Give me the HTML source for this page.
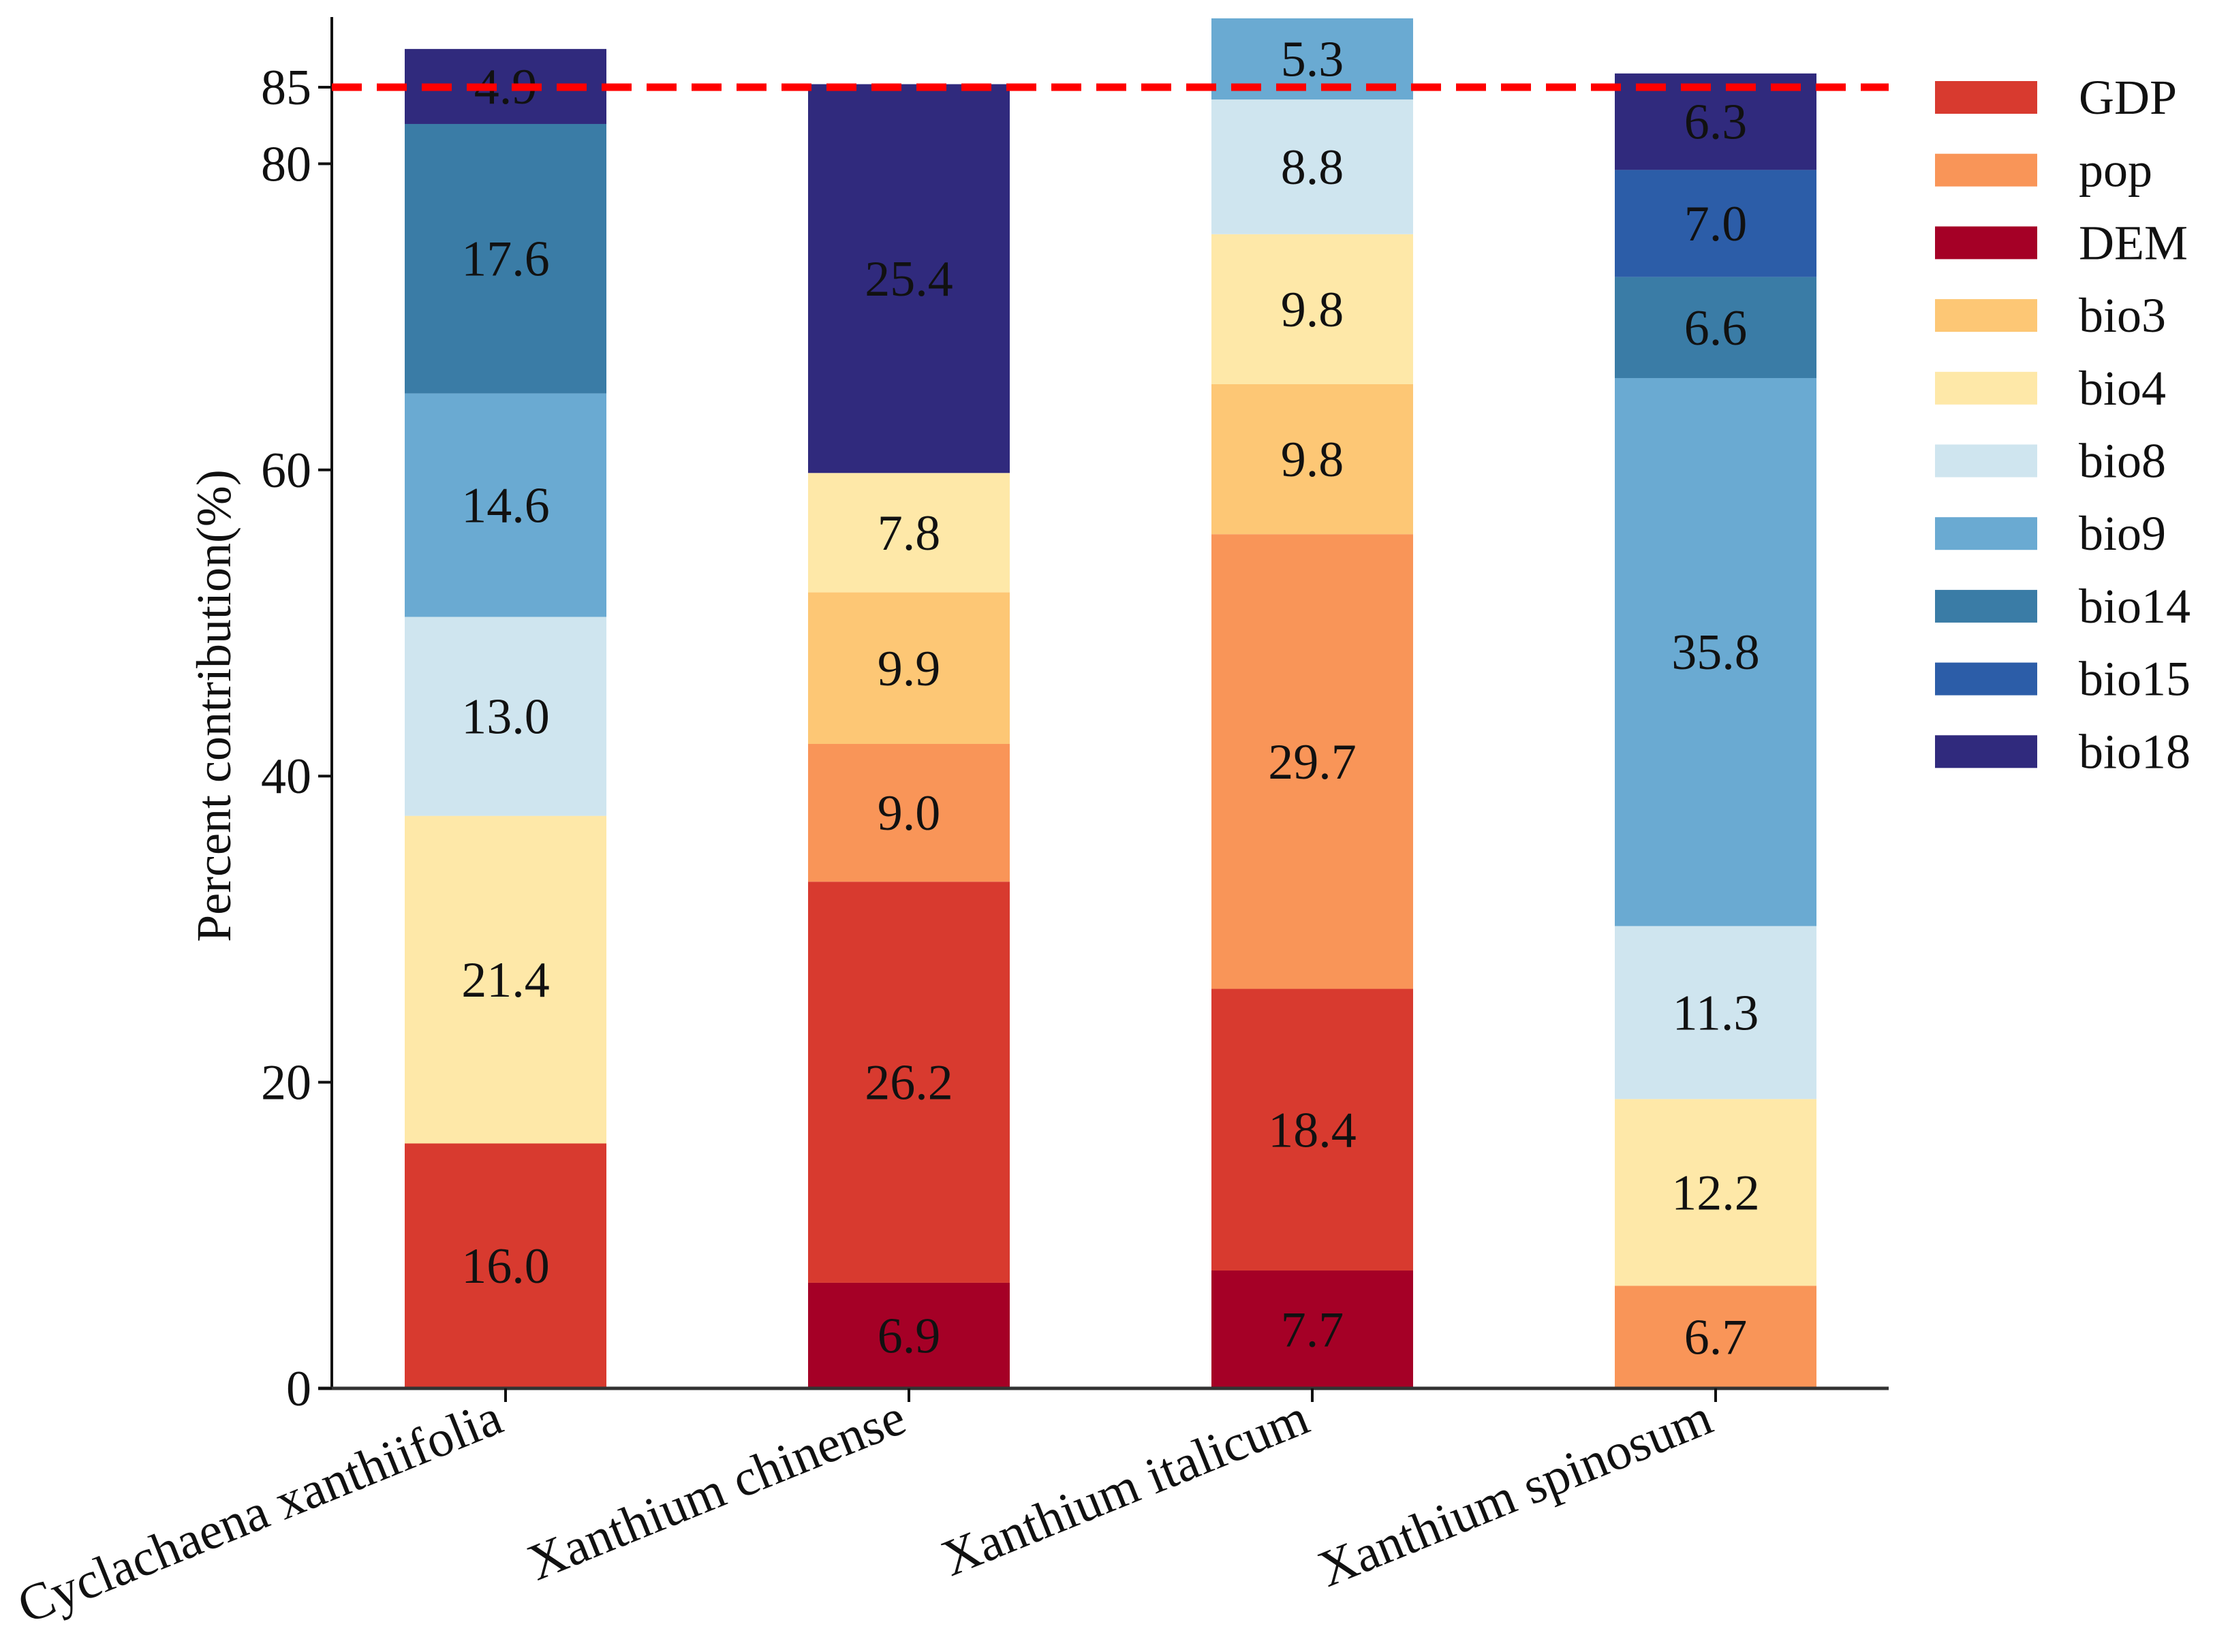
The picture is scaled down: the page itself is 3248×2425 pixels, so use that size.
<!DOCTYPE html>
<html><head><meta charset="utf-8">
<style>
html,body{margin:0;padding:0;background:#fff;}
svg{display:block;}
svg text{font-family:"Liberation Serif","Times New Roman",Times,serif;}
</style></head>
<body>
<svg id="chart" width="3248" height="2425" viewBox="0 0 3248 2425" xmlns="http://www.w3.org/2000/svg">
<g id="bars"></g>
<g id="axes"></g>
<g id="legend"></g>
</svg>
<script>
const categories = ["Cyclachaena xanthiifolia","Xanthium chinense","Xanthium italicum","Xanthium spinosum"];
const seriesNames = ["DEM","GDP","pop","bio3","bio4","bio8","bio9","bio14","bio15","bio18"];
const legendOrder = ["GDP","pop","DEM","bio3","bio4","bio8","bio9","bio14","bio15","bio18"];
const colors = {GDP:"#d83a2f",pop:"#f99558",DEM:"#a50026",bio3:"#fdc775",bio4:"#fee8a8",bio8:"#cfe5ef",bio9:"#6aaad2",bio14:"#3a7ca6",bio15:"#2c5da8",bio18:"#302a7d"};
const DEM   = [0, 6.9, 7.7, 0];
const GDP   = [16.0, 26.2, 18.4, 0];
const pop   = [0, 9.0, 29.7, 6.7];
const bio3  = [0, 9.9, 9.8, 0];
const bio4  = [21.4, 7.8, 9.8, 12.2];
const bio8  = [13.0, 0, 8.8, 11.3];
const bio9  = [14.6, 0, 5.3, 35.8];
const bio14 = [17.6, 0, 0, 6.6];
const bio15 = [0, 0, 0, 7.0];
const bio18 = [4.9, 25.4, 0, 6.3];
const yTicks = [0, 20, 40, 60, 80, 85];
const threshold = 85;

const series = {DEM,GDP,pop,bio3,bio4,bio8,bio9,bio14,bio15,bio18};
const NS = "http://www.w3.org/2000/svg";
const X0 = 487, X1 = 2772, Y0 = 2038, PXU = 22.47;
const centers0 = 742, step = 592, barW = 296;
function yScale(v){ return Y0 - v*PXU; }
function xScale(i){ return centers0 + i*step; }
function mk(tag, attrs, parent){ const e = document.createElementNS(NS, tag); for (const k in attrs) e.setAttribute(k, attrs[k]); parent.appendChild(e); return e; }

const gBars = document.getElementById('bars');
categories.forEach((c, i) => {
  let cum = 0;
  seriesNames.forEach(s => {
    const v = series[s][i];
    if (!v) return;
    const yTop = yScale(cum + v), yBot = yScale(cum);
    const r = mk('rect', {x: xScale(i) - barW/2, y: yTop, width: barW, height: yBot - yTop, fill: colors[s]}, gBars);
    
    
    const t = mk('text', {x: xScale(i), y: (yTop + yBot)/2 + 25, 'text-anchor': 'middle', 'font-size': 74, fill: '#111'}, gBars);
    t.textContent = v.toFixed(1);
    
    
    cum += v;
  });
});

const gAx = document.getElementById('axes');
let l = mk('line', {x1: X0, y1: 25, x2: X0, y2: Y0, stroke: '#111', 'stroke-width': 4}, gAx);


l = mk('line', {x1: X0 - 20, y1: Y0, x2: X1, y2: Y0, stroke: '#333', 'stroke-width': 5}, gAx);


yTicks.forEach(v => {
  const y = yScale(v);
  const tk = mk('line', {x1: X0 - 20, y1: y, x2: X0, y2: y, stroke: '#111', 'stroke-width': 4}, gAx);
  
  
  const t = mk('text', {x: X0 - 30, y: y + 25, 'text-anchor': 'end', 'font-size': 74, fill: '#111'}, gAx);
  t.textContent = v;
  
  
});
categories.forEach((c, i) => {
  const x = xScale(i);
  const tk = mk('line', {x1: x, y1: Y0, x2: x, y2: Y0 + 20, stroke: '#111', 'stroke-width': 4}, gAx);
  
  
  const t = mk('text', {x: x, y: Y0 + 62, 'text-anchor': 'end', 'font-size': 76, fill: '#111', transform: `rotate(-22 ${x} ${Y0 + 62})`}, gAx);
  t.textContent = c;
  
  
});
const yt = mk('text', {x: 0, y: 0, 'text-anchor': 'middle', 'font-size': 72, fill: '#111', transform: 'translate(338 1036) rotate(-90)'}, gAx);
yt.textContent = 'Percent contribution(%)';


const th = mk('line', {x1: X0, y1: yScale(threshold), x2: X1, y2: yScale(threshold), stroke: '#ff0000', 'stroke-width': 11, 'stroke-dasharray': '44 22'}, gAx);



const gLeg = document.getElementById('legend');
legendOrder.forEach((s, k) => {
  const cy = 143 + k*106.7;
  const g = mk('g', {}, gLeg);
  
  
  mk('rect', {x: 2840, y: cy - 24, width: 150, height: 48, fill: colors[s]}, g);
  const t = mk('text', {x: 3051, y: cy + 24, 'font-size': 72, fill: '#111'}, g);
  t.textContent = s;
});
</script>
</body></html>
